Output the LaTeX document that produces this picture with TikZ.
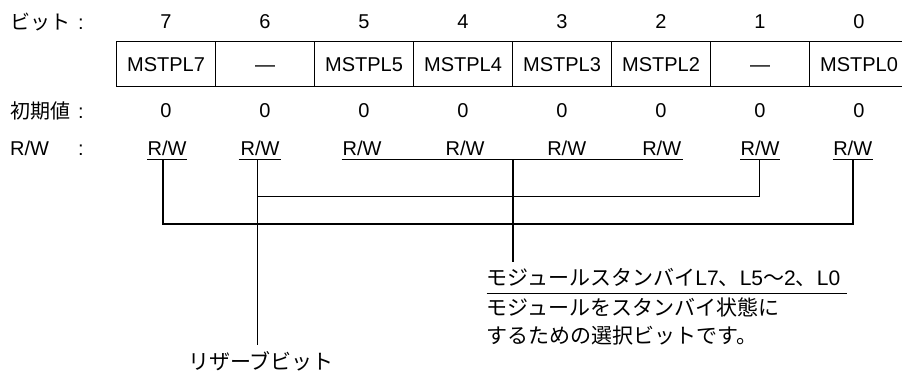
\documentclass[tikz,border=0pt]{standalone}
\usepackage{fontspec}
\setmainfont{Liberation Sans}
\newfontfamily\jp{Noto Sans CJK JP}
\begin{document}
\begin{tikzpicture}[x=1pt,y=-1pt,
  txt/.style={inner sep=0pt, font=\fontsize{20}{24}\selectfont},
  jtxt/.style={inner sep=0pt, font=\jp\fontsize{20}{24}\selectfont},
  dtxt/.style={inner sep=0pt, font=\fontsize{21}{25}\selectfont},
  cellbox/.style={draw, line width=1pt, minimum width=99pt, minimum height=45pt, inner sep=0pt,
    text height=14.3pt, text depth=0pt, font=\fontsize{20}{24}\selectfont},
  thinln/.style={line width=1pt},
  thickln/.style={line width=2.3pt},
  uline/.style={line width=1.3pt}]
\useasboundingbox (0,0) rectangle (902,378);

% left labels
\node[jtxt, anchor=base west] (lbit) at (10,29) {ビット};
\node[txt, anchor=base] (cbit) at (81,29) {:};
\node[jtxt, anchor=base west] (linit) at (10,118) {初期値};
\node[txt, anchor=base] (cinit) at (81,118) {:};
\node[txt, anchor=base west] (lrw) at (10,155) {R/W};
\node[txt, anchor=base] (crw) at (81,155) {:};

% columns
\foreach \b/\lab in {7/MSTPL7, 6/—, 5/MSTPL5, 4/MSTPL4, 3/MSTPL3, 2/MSTPL2, 1/—, 0/MSTPL0}{
  \pgfmathsetmacro{\cx}{166+(7-\b)*99}
  \node[txt, anchor=base] (bit\b) at (\cx,28) {\b};
  \node[cellbox] (cell\b) at (\cx,64.2) {\lab};
  \node[txt, anchor=base] (init\b) at (\cx,117) {0};
}

% R/W labels
\foreach \b/\x in {7/167, 6/260, 5/362, 4/465, 3/566.7, 2/661.7, 1/760, 0/852.7}{
  \node[txt, anchor=base] (rw\b) at (\x,155) {R/W};
}

% underlines
\coordinate (u7a) at (147,159.5); \coordinate (u7b) at (187,159.5);
\coordinate (u6a) at (238.5,159.5); \coordinate (u6b) at (281,159.5);
\coordinate (u5a) at (341.7,159.5); \coordinate (u2b) at (683.3,159.5);
\coordinate (u1a) at (740,159.5); \coordinate (u1b) at (780,159.5);
\coordinate (u0a) at (832.7,159.5); \coordinate (u0b) at (872.7,159.5);
\draw[uline] (u7a) -- (u7b);
\draw[uline] (u6a) -- (u6b);
\draw[uline] (u5a) -- (u2b);
\draw[uline] (u1a) -- (u1b);
\draw[uline] (u0a) -- (u0b);

% connector coordinates
\coordinate (j7) at (163.3,159.5);
\coordinate (k7) at (163.3,224.3);
\coordinate (j0) at (852.7,159.5);
\coordinate (k0) at (852.7,224.3);
\coordinate (j6) at (257.7,159.5);
\coordinate (k6) at (257.7,196);
\coordinate (e6) at (257.7,345);
\coordinate (j1) at (759.3,159.5);
\coordinate (k1) at (759.3,196);
\coordinate (jm) at (513.3,159.5);
\coordinate (em) at (513.3,261.7);

\draw[thinln] (j1) -- (k1) -- (k6);
\draw[thinln] (j6) -- (e6);
\draw[thickln] (j7) -- (k7) -- (k0) -- (j0);
\draw[thickln] (jm) -- (em);

% description
\node[dtxt, anchor=base west] (d1) at (486.7,285) {{\jp モジュールスタンバイ}L7{\jp 、}L5{\jp ～}2{\jp 、}L0};
\coordinate (dl1) at (486.7,293.3); \coordinate (dl2) at (846.7,293.3);
\draw[uline] (dl1) -- (dl2);
\node[dtxt, anchor=base west] (d2) at (486.7,315) {\jp モジュールをスタンバイ状態に};
\node[dtxt, anchor=base west] (d3) at (486.7,343) {\jp するための選択ビットです。};
\node[dtxt, anchor=base west] (res) at (188,369) {\jp リザーブビット};
\end{tikzpicture}
\end{document}
